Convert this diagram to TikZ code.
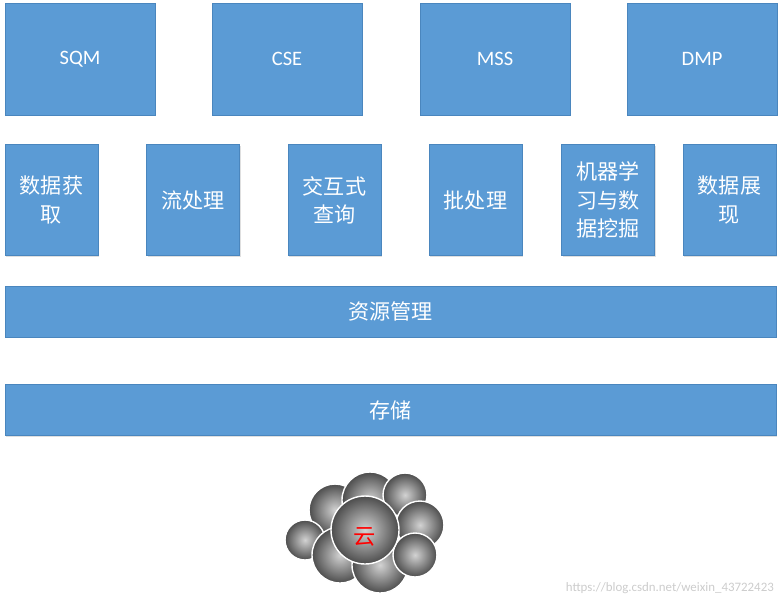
\documentclass[tikz,border=0pt]{standalone}
\usepackage{fontspec}
\setmainfont{Carlito}
\newfontfamily\cjk{Noto Sans CJK SC}
\usetikzlibrary{positioning, shapes.symbols, shadows}
\definecolor{boxblue}{HTML}{5B9BD5}
\definecolor{boxedge}{HTML}{4A86BE}
\tikzset{layerBox/.style={shape=rectangle, draw=boxedge, fill=boxblue, text=white, align=center, font=\fontsize{18}{24}\selectfont\cjk, inner sep=0pt, drop shadow={shadow xshift=1pt, shadow yshift=-1pt, fill=gray!50}}}
\tikzset{appBox/.style={layerBox, minimum width=4.5cm, minimum height=3.36cm, font=\fontsize{17.5}{20}\selectfont}}
\tikzset{toolBox/.style={layerBox, minimum width=2.8cm, minimum height=3.33cm, text width=2.7cm}}
\tikzset{baseBox/.style={layerBox, minimum width=23.13cm, minimum height=1.53cm}}
\tikzset{puff/.style={draw=white, line width=1.2pt, inner color=gray!35, outer color=black!70}}

\begin{document}
\begin{tikzpicture}[x=0.03cm, y=-0.03cm]
\useasboundingbox (0,0) rectangle (783,606);

% application row
\node[appBox] (sqm) at (80,59) {SQM};
\node[appBox] (cse) at (287,59) {CSE};
\node[appBox] (mss) at (495,59) {MSS};
\node[appBox] (dmp) at (702,59) {DMP};

% tool row
\node[toolBox] (acquire) at (51.5,200) {数据获\\取};
\node[toolBox] (stream) at (193,200) {流处理};
\node[toolBox] (query) at (334.5,200) {交互式\\查询};
\node[toolBox] (batch) at (475.5,200) {批处理};
\node[toolBox] (mining) at (608,200) {机器学\\习与数\\据挖掘};
\node[toolBox] (show) at (729.5,200) {数据展\\现};

% resource and storage layers
\node[baseBox] (resource) at (390.5,311.5) {资源管理};
\node[baseBox] (storage) at (390.5,410) {存储};

% cloud
\foreach \cx/\cy/\r in {335/510/26, 370/500/28, 405/495/22, 420/525/24, 305/540/20, 340/555/28, 380/565/28, 415/555/22, 365/530/34}
  \shade[puff] (\cx,\cy) circle (\r);
\node[font=\fontsize{19}{22}\selectfont\cjk, text=red] (cloud) at (365,537) {云};

% watermark
\node[font=\fontsize{11}{12}\selectfont, text=gray!40, anchor=east] (mark) at (778,588) {https://blog.csdn.net/weixin\_43722423};
\end{tikzpicture}
\end{document}
